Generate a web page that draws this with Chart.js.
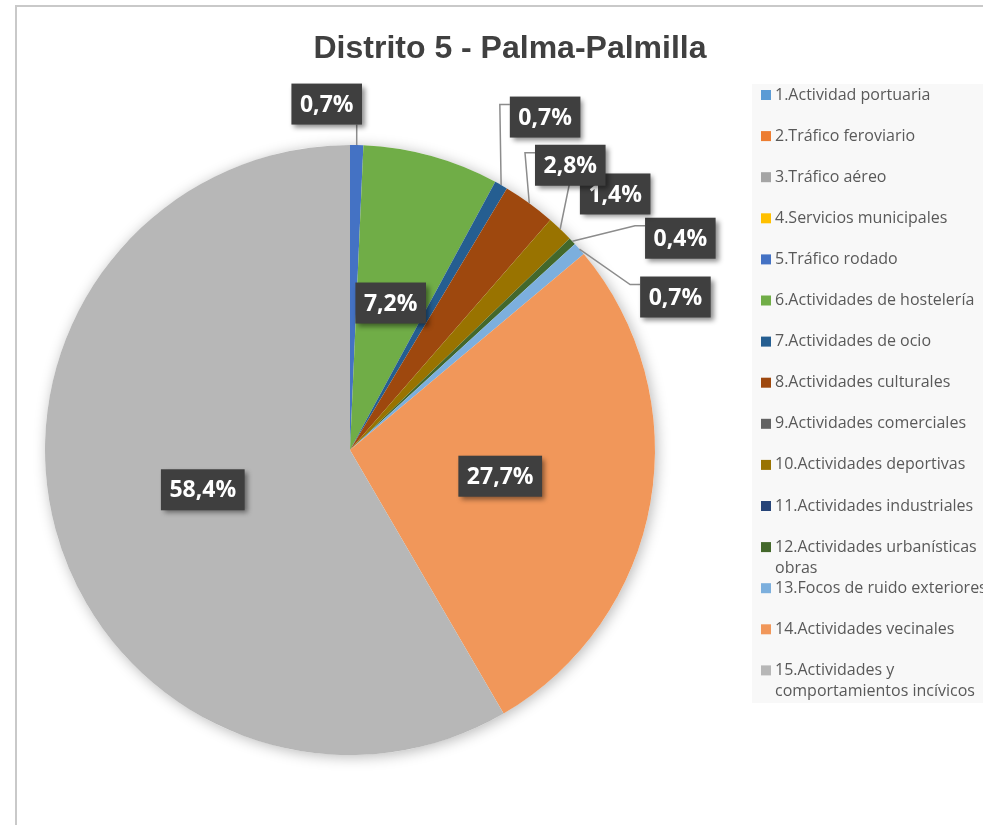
<!DOCTYPE html>
<html>
<head>
<meta charset="utf-8">
<script src="https://cdn.jsdelivr.net/npm/chart.js@4.4.1/dist/chart.umd.min.js"></script>
<style>
  body { margin: 0; background: #fff; }
  #wrap { width: 983px; height: 825px; }
</style>
</head>
<body>
<div id="wrap"><canvas id="pie" width="983" height="825"></canvas></div>
<script>
// Distrito 5 - Palma-Palmilla, reparto de denuncias por tipo
var chartTitle = 'Distrito 5 - Palma-Palmilla';
var categorias = [
  '1.Actividad portuaria',
  '2.Tráfico feroviario',
  '3.Tráfico aéreo',
  '4.Servicios municipales',
  '5.Tráfico rodado',
  '6.Actividades de hostelería',
  '7.Actividades de ocio',
  '8.Actividades culturales',
  '9.Actividades comerciales',
  '10.Actividades deportivas',
  '11.Actividades industriales',
  ['12.Actividades urbanísticas', 'obras'],
  '13.Focos de ruido exteriores',
  '14.Actividades vecinales',
  ['15.Actividades y', 'comportamientos incívicos']
];
var porcentajes = [0, 0, 0, 0, 0.7, 7.2, 0.7, 2.8, 0, 1.4, 0, 0.4, 0.7, 27.7, 58.4];
var colores = ['#5B9BD5', '#ED7D31', '#A5A5A5', '#FFC000', '#4472C4', '#70AD47', '#255E91',
  '#9E480E', '#636363', '#997300', '#264478', '#43682B', '#7CAFDD', '#F1975A', '#B7B7B7'];

// desplazamiento de las etiquetas externas respecto al borde del sector
var offsetsEtiquetas = {4: [-30, -41], 6: [44, -68], 7: [41, -38], 9: [55, -35], 11: [108, -3], 12: [96, 48]};

function fmt(v){
  return v.toFixed(1).replace('.', ',') + '%';
}

var decoracion = {
  id: 'decoracion',
  beforeDraw: function(chart){
    var ctx = chart.ctx;
    ctx.save();
    // marco del grafico
    ctx.strokeStyle = '#c9c9c9';
    ctx.lineWidth = 2;
    ctx.beginPath();
    ctx.moveTo(16, 825);
    ctx.lineTo(16, 6);
    ctx.lineTo(983, 6);
    ctx.stroke();
    // fondo de la leyenda
    ctx.fillStyle = '#f8f8f8';
    ctx.fillRect(752, 84, 231, 619);
    // titulo
    ctx.fillStyle = '#404040';
    ctx.font = 'bold 32px "Liberation Sans", Arial, sans-serif';
    ctx.textAlign = 'center';
    ctx.textBaseline = 'alphabetic';
    ctx.fillText(chartTitle, 510, 58);
    ctx.restore();
  },
  beforeDatasetsDraw: function(chart){
    var arc = chart.getDatasetMeta(0).data[0];
    var ctx = chart.ctx;
    ctx.save();
    ctx.shadowColor = 'rgba(0,0,0,0.28)';
    ctx.shadowBlur = 14;
    ctx.shadowOffsetX = 2;
    ctx.shadowOffsetY = 2;
    ctx.fillStyle = '#ffffff';
    ctx.beginPath();
    ctx.arc(arc.x, arc.y, arc.outerRadius, 0, Math.PI * 2);
    ctx.fill();
    ctx.restore();
  },
  afterDatasetsDraw: function(chart){
    var ctx = chart.ctx;
    var meta = chart.getDatasetMeta(0);
    var values = chart.data.datasets[0].data;
    var boxes = [];
    ctx.save();
    ctx.font = 'bold 23px "Open Sans", sans-serif';
    meta.data.forEach(function(arc, i){
      var v = values[i];
      if (!v) return;
      var mid = (arc.startAngle + arc.endAngle) / 2;
      var r = arc.outerRadius;
      var txt = fmt(v);
      var w = ctx.measureText(txt).width + 17;
      var h = 41;
      var cx, cy, anchor = null;
      if (offsetsEtiquetas[i]) {
        var ax = arc.x + Math.cos(mid) * r;
        var ay = arc.y + Math.sin(mid) * r;
        cx = ax + offsetsEtiquetas[i][0];
        cy = ay + offsetsEtiquetas[i][1];
        anchor = [ax, ay];
      } else {
        cx = arc.x + Math.cos(mid) * r * 0.5;
        cy = arc.y + Math.sin(mid) * r * 0.5;
      }
      boxes.push({i: i, txt: txt, x: cx - w / 2, y: cy - h / 2, w: w, h: h, anchor: anchor});
    });
    // lineas guia
    ctx.strokeStyle = '#8c8c8c';
    ctx.lineWidth = 1.5;
    boxes.forEach(function(b){
      if (!b.anchor) return;
      var ax = b.anchor[0], ay = b.anchor[1];
      ctx.beginPath();
      ctx.moveTo(ax, ay);
      if (ax > b.x && ax < b.x + b.w) {
        ctx.lineTo(ax, b.y + b.h);
      } else {
        ctx.lineTo(b.x - 10, b.y + 8);
        ctx.lineTo(b.x, b.y + 8);
      }
      ctx.stroke();
    });
    // cajas de etiqueta (en orden inverso para que 2,8% quede encima)
    boxes.slice().reverse().forEach(function(b){
      ctx.save();
      ctx.shadowColor = 'rgba(0,0,0,0.45)';
      ctx.shadowBlur = 5;
      ctx.shadowOffsetX = 3;
      ctx.shadowOffsetY = 3;
      ctx.fillStyle = '#3f3f3f';
      ctx.fillRect(b.x, b.y, b.w, b.h);
      ctx.restore();
      ctx.fillStyle = '#ffffff';
      ctx.textAlign = 'center';
      ctx.textBaseline = 'middle';
      ctx.fillText(b.txt, b.x + b.w / 2, b.y + b.h / 2 + 1);
    });
    ctx.restore();
  },
  afterDraw: function(chart){
    var ctx = chart.ctx;
    var labels = chart.data.labels;
    var cols = chart.data.datasets[0].backgroundColor;
    ctx.save();
    ctx.font = '16px "Open Sans", sans-serif';
    ctx.textAlign = 'left';
    ctx.textBaseline = 'middle';
    labels.forEach(function(lab, i){
      var y = 95 + i * 41.1;
      ctx.fillStyle = cols[i];
      ctx.fillRect(761, y - 5, 10, 10);
      ctx.fillStyle = '#595959';
      var lines = Array.isArray(lab) ? lab : [lab];
      lines.forEach(function(t, k){
        ctx.fillText(t, 775, y + k * 21);
      });
    });
    ctx.restore();
  }
};

var chart = new Chart(document.getElementById('pie'), {
  type: 'pie',
  data: {
    labels: categorias,
    datasets: [{
      data: porcentajes,
      backgroundColor: colores,
      borderWidth: 0,
      hoverOffset: 0
    }]
  },
  options: {
    responsive: false,
    animation: false,
    layout: { padding: { left: 45, right: 328, top: 145, bottom: 70 } },
    plugins: {
      legend: { display: false },
      title: { display: false },
      tooltip: { enabled: false }
    }
  },
  plugins: [decoracion]
});
</script>
</body>
</html>
